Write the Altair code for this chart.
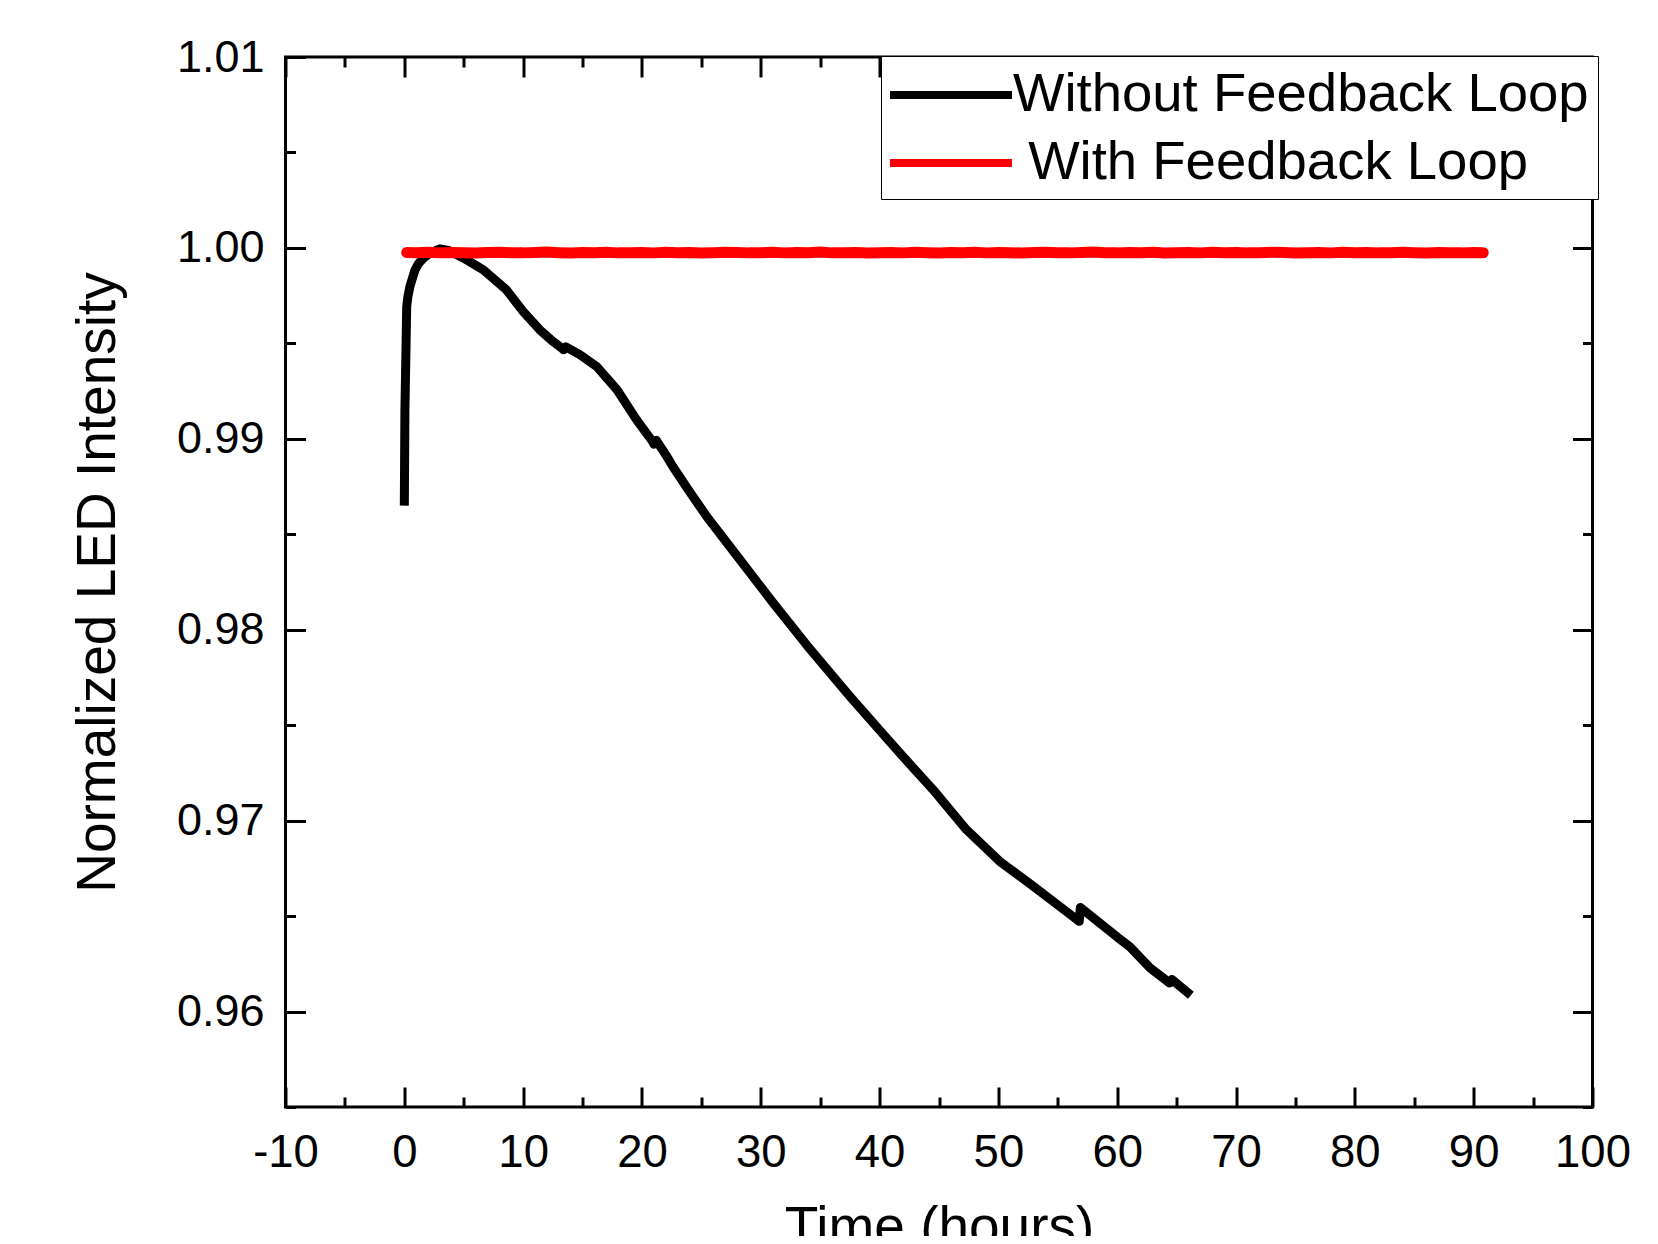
import altair as alt
import pandas as pd

# ---------------- data ----------------
# the reference legend shows a leading space before the second label
series_names = ["Without Feedback Loop", "\u200b\u00a0With Feedback Loop"]
series_colors = ["#000000", "#ff0000"]

without_t = [0.0, 0.05, 0.12, 0.2, 0.3, 0.48, 0.7, 0.9, 1.2, 1.6, 2.2, 3.0, 3.8,
             5.0, 6.65, 8.6, 10.0, 11.4, 12.5, 13.2, 13.4, 13.6, 14.8, 16.2,
             17.9, 19.55, 20.9, 21.0, 21.2, 22.1, 22.6, 23.8, 25.45, 28.25,
             31.05, 33.85, 37.5, 40.0, 41.7, 44.5, 47.3, 50.1, 52.95, 55.0,
             56.6, 56.8, 56.9, 58.5, 60.0, 61.05, 62.76, 64.4, 64.6, 66.2]
without_v = [0.9865, 0.9915, 0.9940, 0.9969, 0.99745, 0.9980, 0.99845, 0.99885,
             0.99918, 0.99946, 0.99975, 0.99995, 0.99985, 0.99946, 0.99885,
             0.99780, 0.99667, 0.99571, 0.99510, 0.99478, 0.99466, 0.99482,
             0.99440, 0.99378, 0.99257, 0.99099, 0.98985, 0.98972, 0.98992,
             0.98907, 0.98855, 0.98742, 0.98593, 0.98366, 0.98140, 0.97921,
             0.97651, 0.97474, 0.97354, 0.97162, 0.96953, 0.96787, 0.96656,
             0.96558, 0.96482, 0.96473, 0.96545, 0.96465, 0.96390, 0.96340,
             0.96229, 0.96150, 0.96168, 0.96085]

with_t = [0.2] + list(range(1, 91)) + [90.8]
with_v = [0.99976, 0.99975, 0.99977, 0.99974, 0.99976, 0.99975, 0.99973, 0.99976, 0.99977, 0.99975,
          0.99974, 0.99976, 0.99978, 0.99975, 0.99973, 0.99976, 0.99975, 0.99977, 0.99974, 0.99975,
          0.99976, 0.99974, 0.99977, 0.99975, 0.99976, 0.99973, 0.99975, 0.99977, 0.99976, 0.99974,
          0.99975, 0.99977, 0.99974, 0.99976, 0.99975, 0.99978, 0.99974, 0.99975, 0.99976, 0.99973,
          0.99975, 0.99976, 0.99974, 0.99977, 0.99975, 0.99973, 0.99976, 0.99975, 0.99977, 0.99974,
          0.99976, 0.99975, 0.99973, 0.99976, 0.99977, 0.99975, 0.99974, 0.99976, 0.99978, 0.99975,
          0.99974, 0.99976, 0.99975, 0.99977, 0.99973, 0.99975, 0.99976, 0.99974, 0.99977, 0.99975,
          0.99976, 0.99974, 0.99975, 0.99977, 0.99976, 0.99973, 0.99975, 0.99976, 0.99974, 0.99977,
          0.99975, 0.99976, 0.99974, 0.99975, 0.99977, 0.99975, 0.99973, 0.99976, 0.99975, 0.99974,
          0.99976, 0.99975]

x_ticks = [-10, -5, 0, 5, 10, 15, 20, 25, 30, 35, 40, 45, 50, 55, 60, 65, 70,
           75, 80, 85, 90, 95, 100]
y_ticks = [0.955, 0.96, 0.965, 0.97, 0.975, 0.98, 0.985, 0.99, 0.995, 1.0,
           1.005, 1.01]
x_domain = [-10, 100]
y_domain = [0.955, 1.01]

x_title = "Time (hours)"
y_title = "Normalized LED Intensity"

# ---------------- styling ----------------
FONT = "Liberation Sans"
W, H = 1307, 1050
MAJ = 20
MINOR_X = "datum.value % 10 !== 0"
MINOR_Y = "round(datum.value * 200) % 2 !== 0"


def make_axis(orient, minor_test, values, labels, label_expr=None, title=None,
              label_padding=24, title_padding=20, label_size=45):
    kw = dict(
        orient=orient,
        values=values,
        offset=-MAJ,
        tickSize=MAJ,
        tickWidth=3,
        tickColor="black",
        tickDash={"condition": {"test": minor_test, "value": [0, 10, 10]},
                  "value": [40, 0]},
        domain=False,
        grid=False,
        labels=labels,
        title=title,
    )
    if labels:
        kw.update(
            labelExpr=label_expr,
            labelFont=FONT,
            labelFontSize=label_size,
            labelColor="black",
            labelPadding=label_padding,
            labelOverlap=False,
            labelFlush=False,
        )
    if title is not None:
        kw.update(
            titleFont=FONT,
            titleFontSize=55,
            titleFontWeight="normal",
            titleColor="black",
            titlePadding=title_padding,
        )
    return alt.Axis(**kw)


axis_bottom = make_axis("bottom", MINOR_X, x_ticks, True,
                        label_expr="datum.value % 10 === 0 ? '' + datum.value : ''",
                        title=x_title, label_padding=23, title_padding=26,
                        label_size=45.5)
axis_left = make_axis("left", MINOR_Y, y_ticks, True,
                      label_expr="round(datum.value * 200) % 2 === 0 ? format(datum.value, '.2f') : ''",
                      title=y_title, label_padding=21.5, title_padding=50,
                      label_size=45)
axis_top = make_axis("top", MINOR_X, x_ticks, False)
axis_right = make_axis("right", MINOR_Y, y_ticks, False)

xscale = alt.Scale(domain=x_domain, nice=False, zero=False)
yscale = alt.Scale(domain=y_domain, nice=False, zero=False)

legend = alt.Legend(
    title=None,
    orient="none",
    legendX=595.5,
    legendY=-1,
    symbolType="M-1.1538,0H3.5385",
    symbolSize=2704,
    symbolStrokeWidth=8,
    symbolOpacity=1,
    labelFont=FONT,
    labelFontSize=54.5,
    labelColor="black",
    labelOffset=63,
    labelLimit=0,
    padding=9,
    rowPadding=11,
    strokeColor="black",
    fillColor="white",
)

color = alt.Color("series:N",
                  scale=alt.Scale(domain=series_names, range=series_colors),
                  legend=legend)

df_without = pd.DataFrame({"t": without_t, "v": without_v, "series": series_names[0]})
df_with = pd.DataFrame({"t": with_t, "v": with_v, "series": series_names[1]})

black = alt.Chart(df_without).mark_line(strokeWidth=9, strokeJoin="round").encode(
    x=alt.X("t:Q", scale=xscale, axis=axis_top),
    y=alt.Y("v:Q", scale=yscale, axis=axis_right),
    color=color,
)

red = alt.Chart(df_with).mark_line(strokeWidth=11, strokeCap="round",
                                    strokeJoin="round").encode(
    x=alt.X("t:Q", scale=xscale, axis=axis_bottom),
    y=alt.Y("v:Q", scale=yscale, axis=axis_left),
    color=color,
)

chart = (
    alt.layer(black, red)
    .resolve_axis(x="independent", y="independent")
    .properties(
        width=W,
        height=H,
        autosize=alt.AutoSizeParams(type="none"),
        padding={"left": 277.5, "top": 49, "right": 57.5, "bottom": 129},
        background="white",
    )
    .configure_view(stroke="black", strokeWidth=3)
)

chart.save("out.html", embed_options={"renderer": "svg", "actions": False})
